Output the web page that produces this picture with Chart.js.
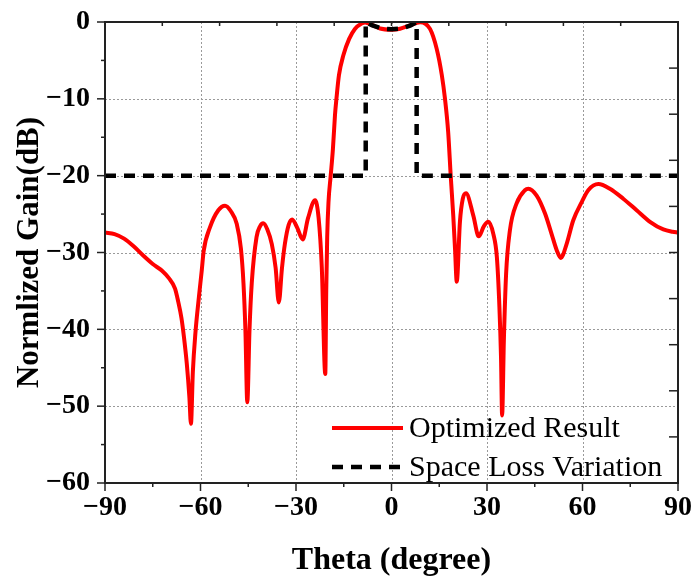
<!DOCTYPE html>
<html>
<head>
<meta charset="utf-8">
<script src="https://cdn.jsdelivr.net/npm/chart.js@4.4.0/dist/chart.umd.min.js"></script>
<style>
  html, body { margin: 0; padding: 0; background: #fff; }
</style>
</head>
<body>
<canvas id="pattern" width="694" height="579"></canvas>
<script>
// optimized pattern
const theta = [-90, -87, -84, -81, -78, -75, -72, -70, -68, -67, -66, -65.2, -64.3, -63.5, -63, -62.4, -61.6, -60.5, -59.6, -59,
  -57, -54.4, -52.3, -50.5, -48.6, -47.3, -46.5, -45.9, -45.3, -44.6, -43.9, -42.4, -41.3, -40.3, -39, -37.6, -36.4, -35.4, -34.4, -33.5,
  -32.3, -31.2, -29.6, -27.9, -26.2, -24, -22.9, -21.9, -20.8, -20.5, -20.2, -19.8, -19.1, -18.4, -17.75, -17.3, -16.5, -15.1, -13.3, -11.5,
  -9.4, -8.3, -6, -3.6, 0, 2.7, 5.8, 9, 12.1, 14.2, 15.8, 16.8, 17.8, 18.6, 19.4, 19.95, 20.5, 21.5, 22.4, 23.4,
  25.7, 27.4, 29, 30.4, 32, 33.1, 33.9, 34.4, 34.75, 35.3, 36, 37.2, 39.3, 41.9, 43, 45.6, 48.2, 50.3, 51.9, 53.2,
  55, 57.1, 59.8, 61.8, 65, 68.6, 72.8, 77, 81.2, 85.4, 88.3, 90];
const gain = [-27.4, -27.6, -28.2, -29.2, -30.4, -31.5, -32.4, -33.3, -34.7, -36.4, -38.5, -41, -44.5, -48.8, -52.3, -45.5, -40.5, -35.8, -32.3, -29.8,
  -26.7, -24.5, -23.9, -24.6, -26.3, -29.5, -34, -40, -49.5, -40, -34, -28, -26.6, -26.2, -27, -28.9, -32, -36.5, -32, -28.9,
  -26.4, -25.7, -26.8, -28.3, -25.5, -23.2, -25.5, -31.9, -45.8, -35, -28, -23.5, -20, -16.5, -12.1, -10, -6.9, -4.3, -2.2, -0.9,
  -0.2, -0.05, -0.4, -0.85, -1.0, -0.87, -0.43, -0.02, -0.9, -3.5, -6.9, -10, -14.3, -20, -25.2, -29.5, -33.8, -26, -23, -22.3,
  -25.2, -27.9, -26.6, -26, -27.6, -30.6, -37.1, -43.6, -51.2, -41.4, -32.8, -27.1, -23.6, -21.9, -21.7, -22.6, -24.9, -27.6, -29.7, -30.7,
  -28.9, -25.8, -23.4, -21.9, -21.1, -21.7, -23, -24.5, -26, -27, -27.3, -27.4];

// space loss mask
const lossTheta = [-90, -8.1, -8.1, -6, -3, 0, 3, 6, 7.9, 7.9, 90];
const lossGain = [-20, -20, 0, -0.45, -0.85, -0.95, -0.85, -0.45, 0, -20, -20];

const xTicks = [-90, -60, -30, 0, 30, 60, 90];
const yTicks = [0, -10, -20, -30, -40, -50, -60];

const serif = "'Liberation Serif', 'Times New Roman', serif";
const minus = v => String(v).replace("-", "\u2212");

const toPoints = (xs, ys) => xs.map((x, i) => ({ x: x, y: ys[i] }));

// grid, frame, ticks (left/bottom outward, top/right inward like Origin)
const frame = {
  id: "frame",
  beforeDatasetsDraw(chart) {
    const { ctx, chartArea: a, scales: { x, y } } = chart;
    ctx.save();
    ctx.strokeStyle = "#9a9a9a";
    ctx.lineWidth = 1;
    ctx.setLineDash([2, 2]);
    xTicks.slice(1, -1).forEach(v => {
      const px = Math.round(x.getPixelForValue(v)) + 0.5;
      ctx.beginPath(); ctx.moveTo(px, a.top); ctx.lineTo(px, a.bottom); ctx.stroke();
    });
    yTicks.slice(1, -1).forEach(v => {
      const py = Math.round(y.getPixelForValue(v)) + 0.5;
      ctx.beginPath(); ctx.moveTo(a.left, py); ctx.lineTo(a.right, py); ctx.stroke();
    });
    ctx.restore();
  },
  afterDatasetsDraw(chart) {
    const { ctx, chartArea: a, scales: { x, y } } = chart;
    ctx.save();
    ctx.strokeStyle = "#222";
    ctx.lineWidth = 2;
    ctx.strokeRect(a.left, a.top, a.right - a.left, a.bottom - a.top);
    ctx.lineWidth = 1.5;
    const seg = (x1, y1, x2, y2) => { ctx.beginPath(); ctx.moveTo(x1, y1); ctx.lineTo(x2, y2); ctx.stroke(); };
    for (let v = -90; v <= 90; v += 15) {
      const px = x.getPixelForValue(v);
      seg(px, a.bottom, px, a.bottom + (v % 30 === 0 ? 8 : 4));
    }
    for (let v = -90; v <= 90; v += 18) {
      const px = x.getPixelForValue(v);
      seg(px, a.top, px, a.top + 4);
    }
    for (let v = 0; v >= -60; v -= 5) {
      const py = y.getPixelForValue(v);
      seg(a.left, py, a.left - (v % 10 === 0 ? 8 : 4), py);
    }
    for (let v = 0; v >= -60; v -= 6) {
      const py = y.getPixelForValue(v);
      seg(a.right, py, a.right - 9, py);
    }
    ctx.restore();
  }
};

// legend inside the lower right corner
const innerLegend = {
  id: "innerLegend",
  afterDraw(chart) {
    const { ctx, chartArea: a } = chart;
    const sets = chart.data.datasets;
    ctx.save();
    ctx.font = "30px " + serif;
    ctx.textBaseline = "middle";
    ctx.fillStyle = "#000";
    sets.forEach((ds, i) => {
      const yy = a.bottom - 55 + i * 39;
      const x0 = a.right - 346;
      ctx.strokeStyle = ds.borderColor;
      ctx.lineWidth = ds.borderWidth;
      ctx.setLineDash(ds.borderDash || []);
      ctx.beginPath(); ctx.moveTo(x0, yy); ctx.lineTo(x0 + 71, yy); ctx.stroke();
      ctx.fillText(ds.label, x0 + 77, yy + 1);
    });
    ctx.restore();
  }
};

new Chart(document.getElementById("pattern"), {
  type: "line",
  data: {
    datasets: [
      {
        label: "Optimized Result",
        data: toPoints(theta, gain),
        borderColor: "#ff0000",
        borderWidth: 4,
        cubicInterpolationMode: "monotone",
        pointRadius: 0,
        order: 2
      },
      {
        label: "Space Loss Variation",
        data: toPoints(lossTheta, lossGain),
        borderColor: "#000",
        borderWidth: 4.5,
        borderDash: [11, 8],
        tension: 0,
        pointRadius: 0,
        order: 1
      }
    ]
  },
  options: {
    responsive: false,
    animation: false,
    devicePixelRatio: 1,
    layout: { padding: { left: 8, right: 16, top: 22, bottom: 0 } },
    plugins: {
      legend: { display: false },
      tooltip: { enabled: false }
    },
    scales: {
      x: {
        type: "linear",
        min: -90,
        max: 90,
        afterBuildTicks: s => { s.ticks = xTicks.map(v => ({ value: v })); },
        afterFit: s => { s.height = 96; s.paddingLeft = 0; s.paddingRight = 0; },
        grid: { display: false, drawTicks: false },
        border: { display: false },
        ticks: {
          padding: 8,
          color: "#000",
          font: { family: serif, size: 28, weight: "bold" },
          maxRotation: 0,
          callback: v => minus(v)
        },
        title: {
          display: true,
          text: "Theta (degree)",
          color: "#000",
          padding: { top: 0, bottom: -1 },
          font: { family: serif, size: 32, weight: "bold" }
        }
      },
      y: {
        min: -60,
        max: 0,
        afterBuildTicks: s => { s.ticks = yTicks.map(v => ({ value: v })); },
        afterFit: s => { s.width = 97; s.paddingTop = 0; s.paddingBottom = 0; },
        grid: { display: false, drawTicks: false },
        border: { display: false },
        ticks: {
          padding: 15,
          color: "#000",
          font: { family: serif, size: 28, weight: "bold" },
          callback: v => minus(v)
        },
        title: {
          display: true,
          text: "Normlized Gain(dB)",
          color: "#000",
          padding: { top: 3, bottom: 0 },
          font: { family: serif, size: 31, weight: "bold" }
        }
      }
    }
  },
  plugins: [frame, innerLegend]
});
</script>
</body>
</html>
